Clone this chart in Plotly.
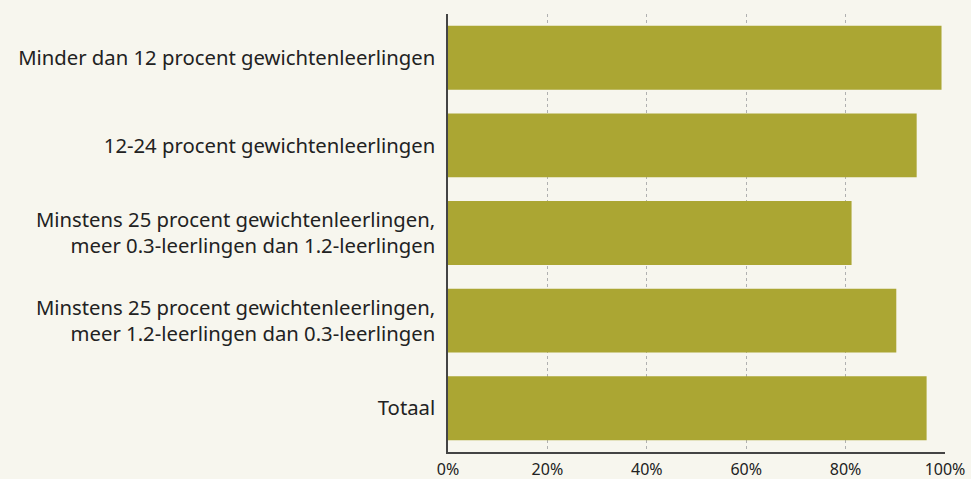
import plotly.graph_objects as go

categories = [
    "Minder dan 12 procent gewichtenleerlingen",
    "12-24 procent gewichtenleerlingen",
    "Minstens 25 procent gewichtenleerlingen,<br>meer 0.3-leerlingen dan 1.2-leerlingen",
    "Minstens 25 procent gewichtenleerlingen,<br>meer 1.2-leerlingen dan 0.3-leerlingen",
    "Totaal",
]
values = [99.3, 94.3, 81.2, 90.2, 96.3]
tick_vals = [0, 20, 40, 60, 80, 100]
tick_text = ["0%", "20%", "40%", "60%", "80%", "100%"]

bg = "#f7f6ee"
fig = go.Figure(go.Bar(
    x=values, y=categories, orientation="h",
    marker=dict(color="#aba633", line=dict(width=0)),
    hoverinfo="x+y",
))
fig.update_layout(
    width=971, height=479,
    margin=dict(l=448, r=26, t=14, b=27, autoexpand=False),
    paper_bgcolor=bg, plot_bgcolor=bg,
    bargap=0.27,
    showlegend=False,
    font=dict(family="Noto Sans", color="#222222"),
)
fig.update_xaxes(
    range=[0, 100], tickvals=tick_vals, ticktext=tick_text,
    showgrid=True, gridcolor="#b0b0b0", griddash="dot", gridwidth=1,
    showline=True, linecolor="#444444", linewidth=1.5,
    zeroline=False, ticks="", tickfont=dict(size=16, color="#222222"),
    ticklabelstandoff=2,
    automargin=False,
)
fig.update_yaxes(
    categoryorder="array", categoryarray=categories[::-1],
    showline=True, linecolor="#444444", linewidth=1.5,
    showgrid=False, ticks="", ticklabelstandoff=7,
    tickfont=dict(size=20.3, color="#222222"),
    automargin=False,
)
fig.write_html(
    "out.html",
    config={"displayModeBar": False},
    post_script="document.body.style.margin='0';document.body.style.background='%s';" % bg,
)
